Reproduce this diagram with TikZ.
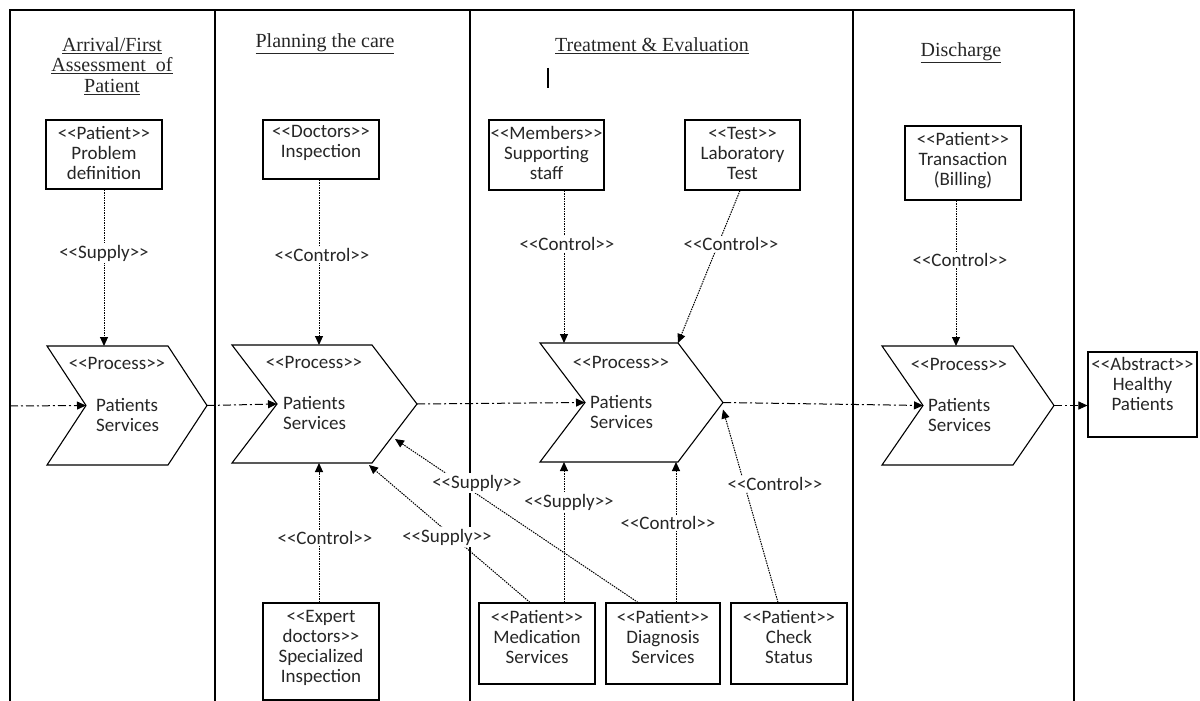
\documentclass[tikz,border=0pt]{standalone}
\usepackage{fontspec}
\setmainfont{Liberation Serif}
\newfontfamily\sansf{Carlito}
\usetikzlibrary{arrows.meta}
\tikzset{
  frame/.style={line width=1.3pt},
  box/.style={draw, line width=1.1pt, inner sep=0pt},
  txt/.style={font=\sansf\fontsize{19}{20}\selectfont, text=black!85, align=center, inner sep=0pt},
  lab/.style={font=\sansf\fontsize{19}{20}\selectfont, text=black!85, fill=white, inner sep=1.5pt},
  ttl/.style={font=\fontsize{20}{20.5}\selectfont, text=black!85, align=center, inner sep=0pt},
  chev/.style={draw, line width=1.1pt, line join=miter},
  dep/.style={line width=1pt, dash pattern=on 1.5pt off 1pt, -{Triangle[length=9pt,width=8pt]}},
  flow/.style={line width=1pt, dash pattern=on 8pt off 3pt on 2pt off 3pt, -{Triangle[length=9pt,width=8pt]}},
}
\newcommand\mychev[6]{%
  \node[minimum width=#4pt, minimum height=#5pt, inner sep=0pt, outer sep=0pt] (#1) at (#2,#3) {};
  \draw[chev] (#1.north west) -- ([xshift=-#6pt]#1.north east) -- (#1.east) -- ([xshift=-#6pt]#1.south east) -- (#1.south west) -- ([xshift=#6pt]#1.west) -- cycle;
  \coordinate (#1n) at ([xshift=#6pt]#1.west);
}
\newcommand\tbox[7]{%
  \node[box, minimum width=#4pt, minimum height=#5pt] (#1) at (#2,#3) {};
  \node[txt] (#1t) at (#2,#6) {#7};
}
\begin{document}
\begin{tikzpicture}[x=1pt,y=-1pt]
\path[use as bounding box] (0,0) rectangle (1200,701);
% frame and lanes
\draw[frame] (10,701) -- (10,10) -- (1074,10) -- (1074,701);
\draw[frame] (215,10) -- (215,701);
\draw[frame] (470,10) -- (470,701);
\draw[frame] (853,10) -- (853,701);
% titles
\node[ttl] (t1) at (112,66) {\underline{Arrival/First}\\\underline{Assessment\ \ of}\\\underline{Patient}};
\node[ttl] (t2) at (325,44) {\underline{Planning the care}};
\node[ttl] (t3) at (652,46) {\underline{Treatment \& Evaluation}};
\node[ttl] (t4) at (961,53) {\underline{Discharge}};
\draw[line width=2.8pt] (548,68) -- (548,88);
% boxes
\tbox{b1}{104}{154.5}{116}{69}{153}{<<Patient>>\\Problem\\definition}
\tbox{b2}{321}{149.5}{116}{59}{143}{<<Doctors>>\\Inspection}
\tbox{b3}{546.5}{155}{115}{70}{153}{<<Members>>\\Supporting\\staff}
\tbox{b4}{742.5}{155}{115}{70}{153}{<<Test>>\\Laboratory\\Test}
\tbox{b5}{963}{163}{116}{74}{161}{<<Patient>>\\Transaction\\(Billing)}
\tbox{hp}{1142.5}{394.5}{109}{85}{384}{<<Abstract>>\\Healthy\\Patients}
\tbox{ex}{321}{651.5}{116}{97}{648}{<<Expert\\doctors>>\\Specialized\\Inspection}
\tbox{md}{537}{643.5}{116}{81}{637}{<<Patient>>\\Medication\\Services}
\tbox{dg}{663}{643.5}{114}{81}{637}{<<Patient>>\\Diagnosis\\Services}
\tbox{cs}{789}{643.5}{116}{81}{637}{<<Patient>>\\Check\\Status}
% chevrons
\mychev{c1}{127}{405.5}{160}{119}{39}
\mychev{c2}{324.5}{404}{185}{118}{45}
\mychev{c3}{631.5}{402.5}{183}{119}{45}
\mychev{c4}{968}{405.5}{172}{119}{41}
\node[txt] (p1) at (117,363) {<<Process>>};
\node[txt, anchor=west, align=left] (q1) at (96,414.5) {Patients\\Services};
\node[txt] (p2) at (314,362) {<<Process>>};
\node[txt, anchor=west, align=left] (q2) at (283,413) {Patients\\Services};
\node[txt] (p3) at (621,362) {<<Process>>};
\node[txt, anchor=west, align=left] (q3) at (590,412) {Patients\\Services};
\node[txt] (p4) at (959,364) {<<Process>>};
\node[txt, anchor=west, align=left] (q4) at (928,415) {Patients\\Services};
% main flow
\coordinate (start) at (10,406);
\draw[flow] (start) -- (c1n);
\draw[flow] (c1.east) -- (c2n);
\draw[flow] (c2.east) -- (c3n);
\draw[flow] (c3.east) -- (c4n);
\draw[flow] (c4.east) -- (c4.east -| hp.west);
% dependency connectors
\coordinate (s1) at (b1.south);
\draw[dep] (s1) -- (s1 |- c1.north);
\coordinate (s2) at ([xshift=-2pt]b2.south);
\draw[dep] (s2) -- (s2 |- c2.north);
\coordinate (s3) at ([xshift=17.5pt]b3.south);
\draw[dep] (s3) -- (s3 |- c3.north);
\coordinate (s4) at ([xshift=-2.5pt]b4.south);
\coordinate (e4) at ([xshift=-45pt]c3.north east);
\draw[dep] (s4) -- (e4);
\coordinate (s5) at ([xshift=-7pt]b5.south);
\draw[dep] (s5) -- (s5 |- c4.north);
\coordinate (s6) at ([xshift=-2pt]ex.north);
\draw[dep] (s6) -- (s6 |- c2.south);
\coordinate (s7) at ([xshift=-7pt]md.north);
\coordinate (e7) at ([xshift=-48pt,yshift=-2pt]c2.south east);
\draw[dep] (s7) -- (e7);
\coordinate (s8) at ([xshift=-25pt]dg.north);
\coordinate (e8) at ([xshift=-22pt,yshift=-35pt]c2.east);
\draw[dep] (s8) -- (e8);
\coordinate (s9) at ([xshift=27pt]md.north);
\draw[dep] (s9) -- (s9 |- c3.south);
\coordinate (s10) at ([xshift=13pt]dg.north);
\draw[dep] (s10) -- (s10 |- c3.south);
\coordinate (s11) at ([xshift=-11pt]cs.north);
\coordinate (e11) at ([yshift=-7pt]c3.east);
\draw[dep] (s11) -- (e11);
% connector labels
\node[lab] (l1) at (104,253) {<<Supply>>};
\node[lab] (l2) at (322,255) {<<Control>>};
\node[lab] (l3) at (567,244) {<<Control>>};
\node[lab] (l4) at (731,244) {<<Control>>};
\node[lab] (l5) at (960,260) {<<Control>>};
\node[lab] (l6) at (325,538) {<<Control>>};
\node[lab] (l7) at (447,537) {<<Supply>>};
\node[lab] (l8) at (477,483) {<<Supply>>};
\node[lab] (l9) at (569,502) {<<Supply>>};
\node[lab] (l10) at (668,523) {<<Control>>};
\node[lab] (l11) at (775,484) {<<Control>>};
\end{tikzpicture}
\end{document}
